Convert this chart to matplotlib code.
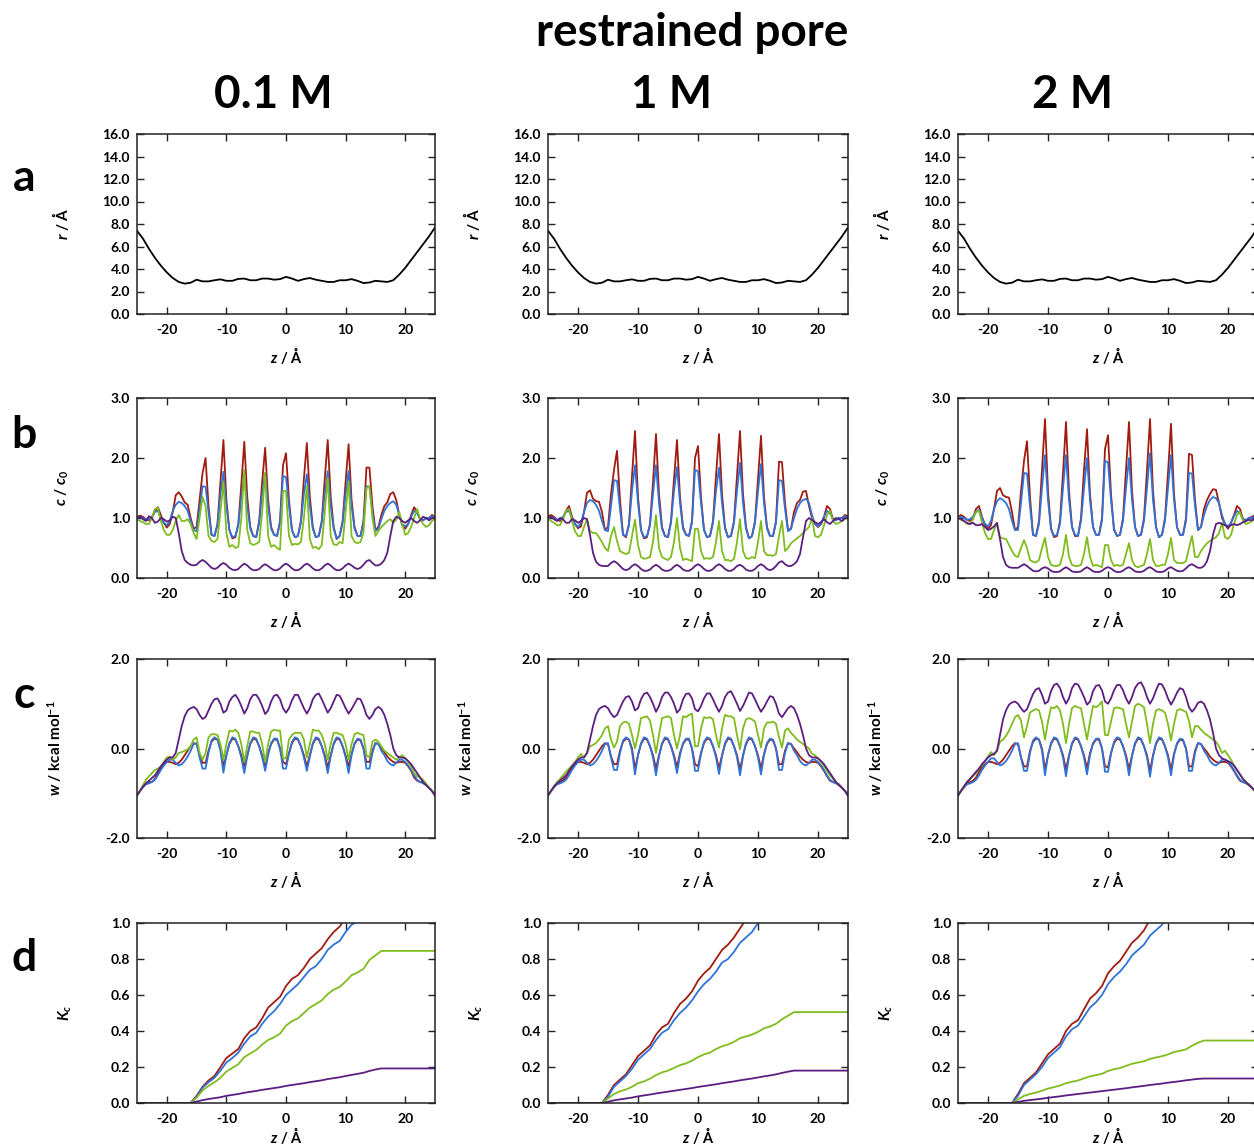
import numpy as np
import matplotlib
matplotlib.use("Agg")
import matplotlib.pyplot as plt
from matplotlib.ticker import FormatStrFormatter, FixedLocator

plt.rcParams['font.family'] = ['Lato', 'DejaVu Sans']
plt.rcParams['axes.unicode_minus'] = False
plt.rcParams['mathtext.fontset'] = 'custom'
plt.rcParams['mathtext.rm'] = 'Lato:bold'
plt.rcParams['mathtext.it'] = 'Lato:italic:bold'
plt.rcParams['mathtext.bf'] = 'Lato:bold'

# ---------------- data ----------------
concentrations = ['0.1 M', '1 M', '2 M']
row_letters = ['a', 'b', 'c', 'd']
series_colors = {'red': '#A01C10', 'blue': '#2F72D8', 'green': '#80BC1E', 'purple': '#5B1E80'}

# pore radius profile (same in all columns)
z_r = [-25, -24, -23, -22, -21, -20, -19, -18, -17, -16, -15, -14, -13, -12, -11, -10, -9, -8, -7, -6, -5,
       -4, -3, -2, -1, 0, 1, 2, 3, 4, 5, 6, 7, 8, 9, 10, 11, 12, 13, 14, 15, 16, 17, 18, 19, 20, 21, 22, 23, 24, 25]
r_profile = [7.4, 6.7, 5.8, 5.0, 4.3, 3.7, 3.2, 2.85, 2.7, 2.78, 3.05, 2.9, 2.9, 3.0, 3.08, 2.95, 2.95, 3.12, 3.15, 3.0, 3.0,
             3.15, 3.15, 3.05, 3.1, 3.3, 3.15, 2.95, 3.1, 3.2, 3.05, 2.95, 2.85, 2.85, 3.0, 3.0, 3.1, 2.95, 2.75, 2.8, 2.95,
             2.9, 2.85, 3.0, 3.5, 4.1, 4.8, 5.5, 6.2, 6.9, 7.7]

# z grid (0.5 A) for concentration and PMF profiles
z_c = [-25.0, -24.5, -24.0, -23.5, -23.0, -22.5, -22.0, -21.5, -21.0, -20.5,
       -20.0, -19.5, -19.0, -18.5, -18.0, -17.5, -17.0, -16.5, -16.0, -15.5,
       -15.0, -14.5, -14.0, -13.5, -13.0, -12.5, -12.0, -11.5, -11.0, -10.5,
       -10.0, -9.5, -9.0, -8.5, -8.0, -7.5, -7.0, -6.5, -6.0, -5.5,
       -5.0, -4.5, -4.0, -3.5, -3.0, -2.5, -2.0, -1.5, -1.0, -0.5,
       0.0, 0.5, 1.0, 1.5, 2.0, 2.5, 3.0, 3.5, 4.0, 4.5,
       5.0, 5.5, 6.0, 6.5, 7.0, 7.5, 8.0, 8.5, 9.0, 9.5,
       10.0, 10.5, 11.0, 11.5, 12.0, 12.5, 13.0, 13.5, 14.0, 14.5,
       15.0, 15.5, 16.0, 16.5, 17.0, 17.5, 18.0, 18.5, 19.0, 19.5,
       20.0, 20.5, 21.0, 21.5, 22.0, 22.5, 23.0, 23.5, 24.0, 24.5,
       25.0]

# ---- c/c0, 0.1 M ----
c01_red = [1.02, 1.04, 1.02, 0.98, 0.96, 1.0, 1.12, 1.18, 1.05, 0.92,
           0.84, 0.9, 1.1, 1.38, 1.43, 1.36, 1.26, 1.22, 1.0, 0.82,
           0.85, 1.3, 1.75, 2.0, 1.2, 0.72, 0.7, 0.9, 1.6, 2.3,
           1.3, 0.8, 0.66, 0.68, 0.9, 1.55, 2.27, 1.35, 0.85, 0.7,
           0.68, 0.95, 1.6, 2.17, 1.3, 0.85, 0.72, 0.7, 0.95, 1.88,
           2.08, 1.3, 0.8, 0.68, 0.7, 0.95, 1.65, 2.25, 1.35, 0.85,
           0.68, 0.7, 0.95, 1.65, 2.3, 1.35, 0.85, 0.65, 0.7, 0.95,
           1.6, 2.23, 1.3, 0.85, 0.7, 0.7, 0.95, 1.84, 1.84, 1.2,
           0.8, 0.85, 1.05, 1.2, 1.26, 1.4, 1.43, 1.3, 1.05, 0.88,
           0.82, 0.9, 1.05, 1.18, 1.1, 0.98, 0.96, 1.0, 1.0, 1.05,
           1.02]
c01_blue = [1.0, 1.02, 1.0, 0.97, 0.98, 1.02, 1.1, 1.12, 1.0, 0.92,
            0.88, 0.95, 1.12, 1.22, 1.27, 1.25, 1.2, 1.12, 0.95, 0.8,
            0.78, 1.15, 1.53, 1.52, 1.1, 0.72, 0.7, 0.88, 1.4, 1.77,
            1.2, 0.8, 0.68, 0.7, 0.88, 1.35, 1.72, 1.2, 0.82, 0.7,
            0.68, 0.92, 1.4, 1.75, 1.2, 0.82, 0.72, 0.7, 0.92, 1.7,
            1.68, 1.2, 0.8, 0.68, 0.7, 0.92, 1.4, 1.73, 1.2, 0.82,
            0.68, 0.7, 0.92, 1.4, 1.78, 1.2, 0.82, 0.66, 0.7, 0.92,
            1.4, 1.78, 1.2, 0.82, 0.7, 0.7, 0.92, 1.53, 1.52, 1.1,
            0.78, 0.82, 0.98, 1.12, 1.2, 1.25, 1.28, 1.22, 1.05, 0.9,
            0.86, 0.9, 1.02, 1.12, 1.08, 0.98, 0.96, 1.0, 1.0, 1.03,
            1.0]
c01_green = [0.98, 0.95, 0.93, 0.9, 0.9, 1.0, 1.15, 1.17, 0.95, 0.8,
             0.72, 0.72, 0.8, 0.95, 1.05, 0.95, 0.95, 0.98, 0.9, 0.75,
             0.65, 1.0, 1.35, 1.2, 0.7, 0.62, 0.6, 0.65, 1.1, 1.6,
             0.75, 0.52, 0.55, 0.5, 0.52, 1.0, 1.8, 0.8, 0.58, 0.55,
             0.57, 0.6, 1.1, 1.75, 0.7, 0.52, 0.55, 0.5, 0.47, 1.45,
             1.45, 0.7, 0.55, 0.57, 0.56, 0.6, 1.0, 1.53, 0.65, 0.5,
             0.52, 0.48, 0.55, 1.1, 1.67, 0.7, 0.56, 0.55, 0.6, 0.58,
             1.1, 1.61, 0.7, 0.6, 0.58, 0.6, 0.75, 1.5, 1.53, 1.0,
             0.7, 0.78, 0.85, 0.9, 0.95, 0.98, 0.92, 0.97, 1.1, 0.9,
             0.72, 0.75, 0.85, 1.0, 1.15, 0.98, 0.9, 0.85, 0.88, 0.95,
             1.0]
c01_purple = [1.0, 1.02, 0.98, 0.95, 1.03, 1.0, 0.92, 0.94, 1.0, 0.98,
              0.94, 0.96, 1.02, 1.0, 0.75, 0.45, 0.3, 0.25, 0.22, 0.21,
              0.22, 0.27, 0.3, 0.27, 0.22, 0.17, 0.15, 0.17, 0.22, 0.25,
              0.22, 0.17, 0.14, 0.13, 0.15, 0.2, 0.24, 0.21, 0.16, 0.13,
              0.13, 0.15, 0.2, 0.23, 0.2, 0.16, 0.13, 0.13, 0.16, 0.21,
              0.24, 0.21, 0.16, 0.13, 0.13, 0.16, 0.21, 0.24, 0.21, 0.16,
              0.13, 0.13, 0.16, 0.21, 0.24, 0.21, 0.16, 0.13, 0.13, 0.16,
              0.21, 0.24, 0.21, 0.17, 0.15, 0.17, 0.22, 0.28, 0.3, 0.25,
              0.21, 0.21, 0.24, 0.3, 0.42, 0.7, 0.95, 1.02, 1.0, 0.95,
              0.92, 0.96, 1.0, 0.95, 0.92, 0.96, 1.02, 1.0, 0.96, 1.0,
              1.0]

# ---- c/c0, 1 M ----
c1_red = [1.03, 1.05, 1.02, 0.97, 0.95, 1.0, 1.12, 1.2, 1.02, 0.9,
          0.83, 0.86, 1.1, 1.42, 1.46, 1.32, 1.28, 1.27, 1.1, 0.8,
          0.85, 1.4, 1.8, 2.12, 1.3, 0.72, 0.68, 0.9, 1.7, 2.45,
          1.35, 0.8, 0.66, 0.68, 0.9, 1.6, 2.4, 1.4, 0.85, 0.7,
          0.68, 0.95, 1.65, 2.3, 1.35, 0.85, 0.72, 0.7, 0.95, 2.0,
          2.2, 1.35, 0.8, 0.68, 0.7, 0.95, 1.7, 2.4, 1.4, 0.85,
          0.68, 0.7, 0.95, 1.7, 2.45, 1.4, 0.85, 0.66, 0.7, 0.95,
          1.65, 2.37, 1.35, 0.85, 0.7, 0.7, 0.95, 1.94, 1.93, 1.25,
          0.8, 0.82, 1.1, 1.25, 1.3, 1.44, 1.45, 1.2, 1.0, 0.9,
          0.85, 0.9, 1.02, 1.2, 1.15, 0.98, 0.97, 1.0, 1.0, 1.05,
          1.03]
c1_blue = [1.0, 1.02, 1.0, 0.97, 0.98, 1.02, 1.1, 1.12, 1.0, 0.9,
           0.85, 0.92, 1.1, 1.25, 1.3, 1.28, 1.22, 1.12, 0.95, 0.8,
           0.78, 1.2, 1.63, 1.62, 1.15, 0.72, 0.7, 0.88, 1.45, 1.88,
           1.25, 0.8, 0.68, 0.7, 0.88, 1.4, 1.88, 1.25, 0.82, 0.7,
           0.68, 0.92, 1.45, 1.85, 1.25, 0.82, 0.72, 0.7, 0.92, 1.8,
           1.78, 1.25, 0.8, 0.68, 0.7, 0.92, 1.45, 1.84, 1.25, 0.82,
           0.68, 0.7, 0.92, 1.45, 1.92, 1.25, 0.82, 0.66, 0.7, 0.92,
           1.45, 1.9, 1.25, 0.82, 0.7, 0.7, 0.92, 1.63, 1.62, 1.15,
           0.78, 0.82, 1.0, 1.15, 1.25, 1.3, 1.32, 1.25, 1.05, 0.9,
           0.86, 0.9, 1.02, 1.12, 1.08, 0.98, 0.96, 1.0, 1.0, 1.03,
           1.0]
c1_green = [1.0, 0.95, 0.92, 0.88, 0.88, 0.98, 1.12, 1.15, 0.95, 0.78,
            0.7, 0.7, 0.85, 0.98, 0.78, 0.75, 0.75, 0.68, 0.6, 0.5,
            0.45, 0.7, 0.85, 0.62, 0.45, 0.42, 0.4, 0.42, 0.7, 0.97,
            0.55, 0.35, 0.32, 0.33, 0.35, 0.6, 1.05, 0.5, 0.35, 0.32,
            0.3, 0.35, 0.6, 1.0, 0.5, 0.3, 0.32, 0.3, 0.28, 0.82,
            0.82, 0.45, 0.32, 0.33, 0.32, 0.35, 0.6, 0.95, 0.45, 0.3,
            0.3, 0.28, 0.32, 0.6, 0.98, 0.45, 0.33, 0.32, 0.35, 0.33,
            0.6, 0.95, 0.45, 0.38, 0.38, 0.37, 0.4, 0.7, 0.95, 0.45,
            0.5, 0.58, 0.62, 0.66, 0.7, 0.75, 0.8, 0.85, 1.0, 0.7,
            0.68, 0.72, 0.88, 1.05, 1.12, 0.95, 0.9, 0.92, 0.95, 0.98,
            1.0]
c1_purple = [1.0, 1.02, 0.98, 0.95, 1.0, 0.98, 0.92, 0.92, 0.98, 0.96,
             0.92, 0.95, 1.0, 0.98, 0.72, 0.42, 0.27, 0.22, 0.2, 0.2,
             0.2, 0.25, 0.28, 0.25, 0.2, 0.15, 0.13, 0.15, 0.2, 0.23,
             0.2, 0.15, 0.12, 0.12, 0.14, 0.19, 0.22, 0.19, 0.14, 0.12,
             0.12, 0.14, 0.19, 0.22, 0.19, 0.14, 0.12, 0.12, 0.15, 0.2,
             0.23, 0.2, 0.15, 0.12, 0.12, 0.15, 0.2, 0.23, 0.2, 0.15,
             0.12, 0.12, 0.15, 0.2, 0.22, 0.19, 0.14, 0.12, 0.12, 0.15,
             0.2, 0.23, 0.2, 0.15, 0.13, 0.15, 0.2, 0.26, 0.28, 0.23,
             0.2, 0.2, 0.23, 0.28, 0.4, 0.68, 0.95, 1.0, 0.97, 0.93,
             0.9, 0.93, 0.98, 0.93, 0.9, 0.95, 1.0, 0.98, 0.95, 1.0,
             1.0]

# ---- c/c0, 2 M ----
c2_red = [1.02, 1.05, 1.02, 0.97, 0.95, 1.0, 1.15, 1.2, 1.02, 0.88,
          0.82, 0.88, 1.15, 1.45, 1.5, 1.38, 1.35, 1.34, 1.1, 0.8,
          0.85, 1.45, 1.95, 2.28, 1.35, 0.72, 0.7, 0.95, 1.8, 2.65,
          1.45, 0.82, 0.68, 0.7, 0.95, 1.75, 2.6, 1.45, 0.85, 0.7,
          0.7, 1.0, 1.8, 2.48, 1.4, 0.85, 0.72, 0.72, 1.0, 2.15,
          2.38, 1.4, 0.8, 0.7, 0.72, 1.0, 1.8, 2.6, 1.45, 0.85,
          0.7, 0.72, 1.0, 1.8, 2.65, 1.45, 0.85, 0.68, 0.72, 1.0,
          1.75, 2.57, 1.4, 0.85, 0.72, 0.72, 1.0, 2.07, 2.05, 1.3,
          0.8, 0.85, 1.15, 1.3, 1.4, 1.48, 1.47, 1.25, 1.0, 0.9,
          0.82, 0.92, 1.05, 1.2, 1.15, 0.98, 0.97, 1.0, 1.02, 1.05,
          1.03]
c2_blue = [1.0, 1.02, 1.0, 0.97, 0.98, 1.02, 1.1, 1.14, 1.0, 0.9,
           0.86, 0.95, 1.15, 1.28, 1.33, 1.3, 1.25, 1.15, 0.95, 0.8,
           0.8, 1.25, 1.75, 1.74, 1.2, 0.72, 0.7, 0.9, 1.5, 2.05,
           1.3, 0.82, 0.7, 0.72, 0.9, 1.5, 2.05, 1.3, 0.85, 0.72,
           0.7, 0.95, 1.5, 2.0, 1.3, 0.85, 0.72, 0.72, 0.95, 1.95,
           1.93, 1.3, 0.82, 0.7, 0.72, 0.95, 1.5, 2.0, 1.3, 0.85,
           0.7, 0.72, 0.95, 1.5, 2.08, 1.3, 0.85, 0.68, 0.72, 0.95,
           1.5, 2.05, 1.3, 0.85, 0.72, 0.72, 0.95, 1.75, 1.74, 1.2,
           0.8, 0.85, 1.05, 1.2, 1.3, 1.35, 1.33, 1.25, 1.05, 0.9,
           0.86, 0.92, 1.03, 1.12, 1.08, 0.98, 0.96, 1.0, 1.0, 1.03,
           1.0]
c2_green = [1.0, 0.97, 0.95, 0.9, 0.9, 0.98, 1.1, 1.12, 0.92, 0.75,
            0.65, 0.65, 0.8, 0.9, 0.68, 0.66, 0.65, 0.55, 0.45, 0.37,
            0.35, 0.5, 0.63, 0.5, 0.3, 0.27, 0.26, 0.3, 0.5, 0.67,
            0.35, 0.22, 0.2, 0.2, 0.22, 0.4, 0.72, 0.35, 0.22, 0.2,
            0.2, 0.22, 0.4, 0.68, 0.35, 0.2, 0.22, 0.2, 0.18, 0.55,
            0.55, 0.3, 0.2, 0.22, 0.2, 0.22, 0.4, 0.58, 0.3, 0.2,
            0.18, 0.2, 0.22, 0.4, 0.65, 0.3, 0.2, 0.2, 0.22, 0.22,
            0.4, 0.67, 0.3, 0.25, 0.25, 0.25, 0.28, 0.5, 0.7, 0.35,
            0.35, 0.45, 0.52, 0.58, 0.62, 0.65, 0.68, 0.75, 0.92, 0.68,
            0.65, 0.72, 0.9, 1.05, 1.1, 0.95, 0.9, 0.92, 0.95, 0.98,
            1.0]
c2_purple = [1.0, 0.98, 0.95, 0.92, 0.9, 0.92, 0.88, 0.88, 0.9, 0.85,
             0.8, 0.82, 0.86, 0.92, 0.65, 0.35, 0.22, 0.18, 0.17, 0.17,
             0.17, 0.2, 0.23, 0.2, 0.16, 0.12, 0.11, 0.12, 0.16, 0.18,
             0.16, 0.12, 0.1, 0.1, 0.11, 0.15, 0.18, 0.15, 0.11, 0.1,
             0.1, 0.11, 0.15, 0.18, 0.15, 0.11, 0.1, 0.1, 0.12, 0.16,
             0.18, 0.16, 0.12, 0.1, 0.1, 0.12, 0.16, 0.18, 0.15, 0.11,
             0.1, 0.1, 0.12, 0.16, 0.18, 0.15, 0.11, 0.1, 0.1, 0.12,
             0.16, 0.18, 0.15, 0.12, 0.11, 0.12, 0.16, 0.21, 0.23, 0.2,
             0.17, 0.17, 0.2, 0.28, 0.45, 0.72, 0.9, 0.92, 0.9, 0.88,
             0.85, 0.88, 0.9, 0.88, 0.9, 0.93, 0.95, 0.97, 0.96, 1.0,
             1.0]

# ---- w (kcal/mol), 0.1 M ----
w01_red = [-1.05, -0.95, -0.85, -0.78, -0.75, -0.75, -0.68, -0.55, -0.45, -0.35,
           -0.3, -0.3, -0.32, -0.35, -0.32, -0.25, -0.15, -0.05, 0.05, 0.12,
           0.1, -0.15, -0.32, -0.32, -0.05, 0.15, 0.22, 0.2, 0.0, -0.4,
           -0.15, 0.1, 0.22, 0.2, 0.05, -0.15, -0.4, -0.15, 0.1, 0.22,
           0.2, 0.05, -0.15, -0.38, -0.1, 0.1, 0.2, 0.2, 0.0, -0.3,
           -0.35, -0.1, 0.12, 0.22, 0.2, 0.05, -0.15, -0.4, -0.15, 0.1,
           0.22, 0.2, 0.05, -0.15, -0.42, -0.15, 0.1, 0.22, 0.2, 0.05,
           -0.15, -0.4, -0.12, 0.1, 0.2, 0.18, 0.0, -0.3, -0.3, -0.05,
           0.12, 0.1, 0.0, -0.08, -0.18, -0.25, -0.3, -0.32, -0.3, -0.3,
           -0.32, -0.4, -0.5, -0.65, -0.72, -0.75, -0.75, -0.8, -0.88, -0.95,
           -1.05]
w01_blue = [-1.05, -0.95, -0.87, -0.8, -0.78, -0.75, -0.7, -0.6, -0.48, -0.38,
            -0.3, -0.25, -0.25, -0.32, -0.38, -0.35, -0.28, -0.18, -0.05, 0.1,
            0.12, -0.2, -0.45, -0.45, -0.1, 0.18, 0.25, 0.2, -0.05, -0.54,
            -0.15, 0.12, 0.25, 0.22, 0.05, -0.2, -0.55, -0.18, 0.12, 0.25,
            0.22, 0.05, -0.2, -0.5, -0.15, 0.12, 0.22, 0.22, 0.0, -0.45,
            -0.45, -0.12, 0.15, 0.25, 0.22, 0.05, -0.2, -0.5, -0.18, 0.12,
            0.25, 0.22, 0.05, -0.2, -0.55, -0.18, 0.12, 0.25, 0.22, 0.05,
            -0.2, -0.55, -0.15, 0.12, 0.22, 0.2, 0.0, -0.45, -0.45, -0.1,
            0.12, 0.1, -0.05, -0.15, -0.28, -0.35, -0.38, -0.32, -0.25, -0.25,
            -0.3, -0.38, -0.48, -0.6, -0.7, -0.75, -0.78, -0.82, -0.88, -0.95,
            -1.05]
w01_green = [-1.05, -0.95, -0.82, -0.7, -0.62, -0.55, -0.48, -0.45, -0.4, -0.3,
             -0.2, -0.18, -0.25, -0.2, -0.1, -0.08, -0.05, -0.02, 0.05, 0.2,
             0.25, -0.1, -0.25, -0.1, 0.25, 0.32, 0.32, 0.3, 0.1, -0.25,
             0.1, 0.4, 0.38, 0.42, 0.35, 0.1, -0.3, 0.05, 0.38, 0.38,
             0.35, 0.35, 0.1, -0.3, 0.1, 0.38, 0.42, 0.4, 0.4, -0.22,
             -0.22, 0.2, 0.3, 0.35, 0.35, 0.35, 0.2, -0.2, 0.1, 0.42,
             0.4, 0.4, 0.3, 0.1, -0.25, 0.1, 0.35, 0.35, 0.32, 0.3,
             0.1, -0.25, 0.1, 0.32, 0.35, 0.32, 0.3, -0.15, -0.2, 0.15,
             0.2, 0.15, 0.05, -0.05, -0.1, -0.15, -0.2, -0.25, -0.2, -0.15,
             -0.22, -0.3, -0.4, -0.55, -0.62, -0.65, -0.7, -0.78, -0.88, -0.95,
             -1.05]
w01_purple = [-1.05, -0.95, -0.85, -0.78, -0.72, -0.66, -0.6, -0.5, -0.4, -0.32,
              -0.25, -0.2, -0.2, -0.1, 0.2, 0.5, 0.72, 0.85, 0.9, 0.93,
              0.88, 0.75, 0.66, 0.7, 0.85, 1.0, 1.1, 1.12, 1.0, 0.8,
              0.85, 1.05, 1.15, 1.2, 1.1, 0.95, 0.78, 0.9, 1.1, 1.2,
              1.2, 1.1, 0.95, 0.77, 0.85, 1.05, 1.18, 1.2, 1.1, 0.9,
              0.8, 0.9, 1.08, 1.2, 1.2, 1.05, 0.9, 0.78, 0.9, 1.1,
              1.2, 1.23, 1.1, 0.95, 0.8, 0.9, 1.05, 1.2, 1.18, 1.05,
              0.9, 0.78, 0.88, 1.0, 1.12, 1.1, 0.95, 0.75, 0.66, 0.75,
              0.88, 0.93, 0.88, 0.75, 0.55, 0.3, 0.0, -0.15, -0.2, -0.2,
              -0.22, -0.28, -0.35, -0.45, -0.55, -0.65, -0.75, -0.82, -0.88, -0.95,
              -1.05]

# ---- w, 1 M ----
w1_red = [-1.05, -0.95, -0.85, -0.78, -0.75, -0.72, -0.65, -0.52, -0.42, -0.35,
          -0.3, -0.3, -0.32, -0.35, -0.32, -0.25, -0.15, -0.05, 0.05, 0.12,
          0.1, -0.18, -0.35, -0.35, -0.05, 0.15, 0.22, 0.2, 0.0, -0.45,
          -0.15, 0.1, 0.22, 0.2, 0.05, -0.15, -0.45, -0.15, 0.1, 0.22,
          0.2, 0.05, -0.15, -0.42, -0.1, 0.1, 0.2, 0.2, 0.0, -0.35,
          -0.4, -0.1, 0.12, 0.22, 0.2, 0.05, -0.15, -0.45, -0.15, 0.1,
          0.22, 0.2, 0.05, -0.15, -0.47, -0.15, 0.1, 0.22, 0.2, 0.05,
          -0.15, -0.45, -0.12, 0.1, 0.2, 0.18, 0.0, -0.35, -0.35, -0.05,
          0.12, 0.1, 0.0, -0.08, -0.18, -0.25, -0.3, -0.32, -0.3, -0.3,
          -0.32, -0.4, -0.5, -0.62, -0.72, -0.75, -0.77, -0.8, -0.88, -0.95,
          -1.05]
w1_blue = [-1.05, -0.95, -0.87, -0.8, -0.78, -0.75, -0.7, -0.6, -0.48, -0.38,
           -0.3, -0.25, -0.25, -0.32, -0.38, -0.35, -0.28, -0.18, -0.05, 0.1,
           0.12, -0.2, -0.48, -0.48, -0.1, 0.18, 0.25, 0.2, -0.05, -0.58,
           -0.15, 0.12, 0.25, 0.22, 0.05, -0.2, -0.6, -0.18, 0.12, 0.25,
           0.22, 0.05, -0.2, -0.55, -0.15, 0.12, 0.22, 0.22, 0.0, -0.5,
           -0.5, -0.12, 0.15, 0.25, 0.22, 0.05, -0.2, -0.57, -0.18, 0.12,
           0.25, 0.22, 0.05, -0.2, -0.6, -0.18, 0.12, 0.25, 0.22, 0.05,
           -0.2, -0.58, -0.15, 0.12, 0.22, 0.2, 0.0, -0.48, -0.48, -0.1,
           0.12, 0.1, -0.05, -0.15, -0.28, -0.35, -0.38, -0.32, -0.25, -0.25,
           -0.3, -0.38, -0.48, -0.6, -0.7, -0.75, -0.78, -0.82, -0.88, -0.95,
           -1.05]
w1_green = [-1.05, -0.95, -0.85, -0.75, -0.68, -0.6, -0.52, -0.45, -0.38, -0.3,
            -0.2, -0.12, -0.2, -0.1, 0.05, 0.08, 0.12, 0.2, 0.3, 0.45,
            0.5, 0.2, 0.02, 0.15, 0.5, 0.58, 0.6, 0.55, 0.3, 0.0,
            0.3, 0.68, 0.7, 0.72, 0.62, 0.3, -0.1, 0.3, 0.68, 0.7,
            0.72, 0.68, 0.3, 0.0, 0.3, 0.72, 0.7, 0.75, 0.78, 0.05,
            0.05, 0.45, 0.7, 0.68, 0.7, 0.65, 0.3, 0.02, 0.45, 0.75,
            0.72, 0.72, 0.68, 0.3, -0.02, 0.45, 0.65, 0.68, 0.65, 0.6,
            0.3, 0.02, 0.45, 0.58, 0.58, 0.6, 0.55, 0.25, 0.02, 0.4,
            0.45, 0.35, 0.28, 0.2, 0.15, 0.1, 0.05, 0.0, -0.12, -0.15,
            -0.22, -0.3, -0.4, -0.5, -0.6, -0.68, -0.75, -0.82, -0.88, -0.95,
            -1.05]
w1_purple = [-1.05, -0.95, -0.85, -0.78, -0.72, -0.66, -0.6, -0.5, -0.4, -0.32,
             -0.25, -0.2, -0.2, -0.1, 0.2, 0.5, 0.75, 0.88, 0.93, 0.95,
             0.9, 0.78, 0.7, 0.75, 0.9, 1.05, 1.15, 1.17, 1.05, 0.85,
             0.9, 1.1, 1.22, 1.25, 1.15, 1.0, 0.82, 0.95, 1.15, 1.25,
             1.25, 1.15, 1.0, 0.8, 0.88, 1.1, 1.22, 1.23, 1.12, 0.88,
             0.83, 0.95, 1.12, 1.23, 1.23, 1.1, 0.95, 0.82, 0.95, 1.15,
             1.25, 1.28, 1.15, 1.0, 0.84, 0.95, 1.1, 1.25, 1.23, 1.1,
             0.95, 0.82, 0.92, 1.05, 1.17, 1.15, 1.0, 0.78, 0.7, 0.8,
             0.9, 0.95, 0.9, 0.75, 0.55, 0.3, 0.0, -0.15, -0.2, -0.2,
             -0.22, -0.28, -0.35, -0.45, -0.55, -0.65, -0.75, -0.82, -0.88, -0.95,
             -1.05]

# ---- w, 2 M ----
w2_red = [-1.05, -0.95, -0.85, -0.78, -0.75, -0.72, -0.65, -0.52, -0.42, -0.35,
          -0.3, -0.3, -0.32, -0.35, -0.32, -0.25, -0.15, -0.05, 0.05, 0.12,
          0.1, -0.2, -0.4, -0.4, -0.05, 0.15, 0.22, 0.2, 0.0, -0.47,
          -0.15, 0.1, 0.22, 0.2, 0.05, -0.15, -0.47, -0.15, 0.1, 0.22,
          0.2, 0.05, -0.15, -0.45, -0.1, 0.1, 0.2, 0.2, 0.0, -0.4,
          -0.42, -0.1, 0.12, 0.22, 0.2, 0.05, -0.15, -0.47, -0.15, 0.1,
          0.22, 0.2, 0.05, -0.15, -0.5, -0.15, 0.1, 0.22, 0.2, 0.05,
          -0.15, -0.48, -0.12, 0.1, 0.2, 0.18, 0.0, -0.4, -0.4, -0.05,
          0.12, 0.1, 0.0, -0.08, -0.18, -0.25, -0.3, -0.32, -0.3, -0.3,
          -0.32, -0.4, -0.5, -0.62, -0.72, -0.75, -0.77, -0.8, -0.88, -0.95,
          -1.05]
w2_blue = [-1.05, -0.95, -0.87, -0.8, -0.78, -0.75, -0.7, -0.6, -0.48, -0.38,
           -0.3, -0.22, -0.22, -0.3, -0.38, -0.35, -0.28, -0.18, -0.05, 0.1,
           0.12, -0.2, -0.5, -0.5, -0.1, 0.18, 0.25, 0.2, -0.05, -0.6,
           -0.15, 0.12, 0.25, 0.22, 0.05, -0.2, -0.62, -0.18, 0.12, 0.25,
           0.22, 0.05, -0.2, -0.58, -0.15, 0.12, 0.22, 0.22, 0.0, -0.52,
           -0.52, -0.12, 0.15, 0.25, 0.22, 0.05, -0.2, -0.6, -0.18, 0.12,
           0.25, 0.22, 0.05, -0.2, -0.63, -0.18, 0.12, 0.25, 0.22, 0.05,
           -0.2, -0.6, -0.15, 0.12, 0.22, 0.2, 0.0, -0.5, -0.5, -0.1,
           0.12, 0.1, -0.05, -0.15, -0.28, -0.35, -0.38, -0.32, -0.25, -0.25,
           -0.3, -0.38, -0.48, -0.6, -0.7, -0.75, -0.78, -0.82, -0.88, -0.95,
           -1.05]
w2_green = [-1.05, -0.95, -0.85, -0.75, -0.68, -0.62, -0.55, -0.45, -0.38, -0.28,
            -0.18, -0.08, -0.15, -0.05, 0.15, 0.2, 0.28, 0.4, 0.55, 0.7,
            0.75, 0.62, 0.25, 0.5, 0.8, 0.85, 0.88, 0.85, 0.6, 0.2,
            0.6, 0.92, 0.9, 0.95, 0.85, 0.55, 0.12, 0.55, 0.9, 0.95,
            0.92, 0.9, 0.55, 0.2, 0.6, 0.95, 0.92, 0.97, 1.05, 0.3,
            0.3, 0.6, 0.9, 0.92, 0.9, 0.88, 0.55, 0.25, 0.6, 0.95,
            1.0, 0.97, 0.92, 0.55, 0.12, 0.55, 0.85, 0.88, 0.85, 0.8,
            0.55, 0.18, 0.55, 0.85, 0.88, 0.85, 0.82, 0.62, 0.25, 0.5,
            0.5, 0.42, 0.35, 0.3, 0.25, 0.2, 0.15, 0.05, -0.1, -0.05,
            -0.15, -0.25, -0.38, -0.48, -0.58, -0.68, -0.75, -0.82, -0.88, -0.95,
            -1.05]
w2_purple = [-1.05, -0.95, -0.85, -0.75, -0.68, -0.6, -0.52, -0.45, -0.35, -0.28,
             -0.2, -0.15, -0.12, -0.05, 0.3, 0.65, 0.85, 0.98, 1.03, 1.05,
             1.0, 0.9, 0.82, 0.88, 1.05, 1.22, 1.32, 1.35, 1.2, 1.0,
             1.05, 1.28, 1.42, 1.45, 1.35, 1.15, 1.0, 1.12, 1.35, 1.45,
             1.43, 1.3, 1.15, 0.98, 1.05, 1.28, 1.4, 1.42, 1.3, 1.05,
             1.0, 1.12, 1.3, 1.42, 1.42, 1.3, 1.12, 1.0, 1.15, 1.35,
             1.45, 1.48, 1.35, 1.15, 1.0, 1.12, 1.3, 1.45, 1.43, 1.3,
             1.12, 0.98, 1.1, 1.25, 1.35, 1.32, 1.15, 0.92, 0.82, 0.9,
             1.02, 1.05, 1.0, 0.85, 0.65, 0.35, 0.0, -0.15, -0.22, -0.25,
             -0.28, -0.32, -0.38, -0.48, -0.58, -0.68, -0.75, -0.82, -0.88, -0.95,
             -1.05]

# ---- cumulative K_c ----
z_k = [-25, -16, -15, -14, -13, -12, -11, -10, -9, -8, -7, -6, -5, -4, -3, -2, -1,
       0, 1, 2, 3, 4, 5, 6, 7, 8, 9, 10, 11, 12, 13, 14, 15, 16, 25]
k01_red = [0, 0, 0.04, 0.09, 0.125, 0.15, 0.2, 0.25, 0.275, 0.3, 0.36, 0.4, 0.42, 0.47, 0.53, 0.56, 0.59,
           0.65, 0.69, 0.71, 0.75, 0.8, 0.83, 0.86, 0.91, 0.95, 0.98, 1.03, 1.08, 1.1, 1.14, 1.2, 1.22, 1.25, 1.25]
k01_blue = [0, 0, 0.035, 0.085, 0.115, 0.14, 0.18, 0.225, 0.25, 0.28, 0.33, 0.37, 0.39, 0.44, 0.48, 0.51, 0.55,
            0.6, 0.63, 0.66, 0.7, 0.74, 0.76, 0.8, 0.85, 0.88, 0.9, 0.95, 0.99, 1.01, 1.05, 1.1, 1.12, 1.14, 1.14]
k01_green = [0, 0, 0.03, 0.07, 0.095, 0.115, 0.14, 0.175, 0.195, 0.215, 0.255, 0.275, 0.295, 0.325, 0.35, 0.365, 0.385,
             0.43, 0.455, 0.47, 0.5, 0.53, 0.55, 0.57, 0.605, 0.63, 0.645, 0.675, 0.71, 0.725, 0.745, 0.795, 0.82, 0.845, 0.845]
k01_purple = [0, 0, 0.008, 0.016, 0.022, 0.027, 0.032, 0.04, 0.045, 0.05, 0.057, 0.062, 0.067, 0.073, 0.078, 0.083, 0.088,
              0.095, 0.1, 0.105, 0.11, 0.116, 0.121, 0.126, 0.133, 0.138, 0.143, 0.15, 0.156, 0.162, 0.168, 0.178, 0.186, 0.192, 0.192]

k1_red = [0, 0, 0.045, 0.1, 0.13, 0.16, 0.21, 0.26, 0.29, 0.32, 0.38, 0.42, 0.44, 0.5, 0.55, 0.58, 0.62,
          0.68, 0.72, 0.75, 0.8, 0.85, 0.88, 0.92, 0.97, 1.02, 1.06, 1.11, 1.16, 1.2, 1.24, 1.3, 1.33, 1.35, 1.35]
k1_blue = [0, 0, 0.035, 0.09, 0.12, 0.15, 0.19, 0.24, 0.27, 0.3, 0.35, 0.39, 0.41, 0.46, 0.5, 0.53, 0.57,
           0.62, 0.66, 0.69, 0.73, 0.78, 0.8, 0.84, 0.89, 0.92, 0.95, 1.0, 1.04, 1.07, 1.11, 1.16, 1.19, 1.21, 1.21]
k1_green = [0, 0, 0.025, 0.05, 0.065, 0.075, 0.09, 0.11, 0.12, 0.135, 0.155, 0.17, 0.18, 0.195, 0.21, 0.22, 0.235,
            0.255, 0.27, 0.28, 0.3, 0.315, 0.325, 0.34, 0.36, 0.37, 0.38, 0.395, 0.415, 0.425, 0.44, 0.465, 0.485, 0.505, 0.505]
k1_purple = [0, 0, 0.007, 0.015, 0.02, 0.025, 0.03, 0.037, 0.042, 0.047, 0.053, 0.058, 0.063, 0.068, 0.073, 0.078, 0.083,
             0.089, 0.094, 0.099, 0.104, 0.11, 0.115, 0.12, 0.126, 0.131, 0.136, 0.142, 0.148, 0.153, 0.159, 0.167, 0.174, 0.18, 0.18]

k2_red = [0, 0, 0.05, 0.11, 0.14, 0.17, 0.22, 0.27, 0.3, 0.33, 0.4, 0.44, 0.46, 0.52, 0.58, 0.61, 0.65,
          0.72, 0.76, 0.79, 0.84, 0.89, 0.92, 0.96, 1.02, 1.06, 1.1, 1.16, 1.21, 1.25, 1.3, 1.36, 1.4, 1.42, 1.42]
k2_blue = [0, 0, 0.04, 0.1, 0.13, 0.16, 0.2, 0.25, 0.28, 0.31, 0.37, 0.41, 0.43, 0.48, 0.53, 0.56, 0.6,
           0.66, 0.7, 0.73, 0.77, 0.82, 0.85, 0.88, 0.93, 0.96, 0.99, 1.04, 1.08, 1.11, 1.15, 1.2, 1.23, 1.25, 1.25]
k2_green = [0, 0, 0.02, 0.04, 0.05, 0.058, 0.068, 0.08, 0.088, 0.097, 0.11, 0.118, 0.125, 0.137, 0.148, 0.155, 0.162,
            0.178, 0.188, 0.194, 0.206, 0.218, 0.225, 0.232, 0.245, 0.253, 0.26, 0.27, 0.283, 0.29, 0.298, 0.318, 0.335, 0.347, 0.347]
k2_purple = [0, 0, 0.006, 0.012, 0.016, 0.02, 0.024, 0.029, 0.033, 0.037, 0.042, 0.046, 0.05, 0.054, 0.058, 0.062, 0.066,
             0.07, 0.074, 0.078, 0.082, 0.087, 0.091, 0.095, 0.1, 0.104, 0.108, 0.113, 0.117, 0.121, 0.126, 0.13, 0.134, 0.136, 0.136]

c_data = [
    {'red': c01_red, 'blue': c01_blue, 'green': c01_green, 'purple': c01_purple},
    {'red': c1_red, 'blue': c1_blue, 'green': c1_green, 'purple': c1_purple},
    {'red': c2_red, 'blue': c2_blue, 'green': c2_green, 'purple': c2_purple},
]
w_data = [
    {'red': w01_red, 'blue': w01_blue, 'green': w01_green, 'purple': w01_purple},
    {'red': w1_red, 'blue': w1_blue, 'green': w1_green, 'purple': w1_purple},
    {'red': w2_red, 'blue': w2_blue, 'green': w2_green, 'purple': w2_purple},
]
k_data = [
    {'red': k01_red, 'blue': k01_blue, 'green': k01_green, 'purple': k01_purple},
    {'red': k1_red, 'blue': k1_blue, 'green': k1_green, 'purple': k1_purple},
    {'red': k2_red, 'blue': k2_blue, 'green': k2_green, 'purple': k2_purple},
]
for group, zz in ((c_data, z_c), (w_data, z_c), (k_data, z_k)):
    for d in group:
        for k, v in d.items():
            assert len(v) == len(zz), (k, len(v), len(zz))

# ---------------- layout ----------------
W, H = 1254, 1148
fig = plt.figure(figsize=(W / 100, H / 100), dpi=100)

col_px = [(137, 298), (548, 300), (958, 300)]
row_px = [(134, 180), (398, 180), (659, 179), (923, 180)]

row_ylim = [(0, 16), (0, 3), (-2, 2), (0, 1)]
row_yticks = [np.arange(0, 16.1, 2), [0, 1, 2, 3], [-2, 0, 2], [0, 0.2, 0.4, 0.6, 0.8, 1.0]]
row_ylabel = [r'$r$ / Å', r'$c$ / $c_0$', r'$w$ / kcal mol$^{-1}$', r'$K_c$']
row_ylab_x = [-66, -66, -73, -63]
row_xlab_y = [-31, -31, -31, -22]

order = ['red', 'blue', 'green', 'purple']
spine_col = '#222222'

for ci in range(3):
    x0, wpx = col_px[ci]
    for ri in range(4):
        y0, hpx = row_px[ri]
        ax = fig.add_axes([x0 / W, 1 - (y0 + hpx) / H, wpx / W, hpx / H])
        if ri == 0:
            ax.plot(z_r, r_profile, color='black', lw=1.3)
        else:
            data, zz = [(c_data, z_c), (w_data, z_c), (k_data, z_k)][ri - 1]
            for s in order:
                ax.plot(zz, data[ci][s], color=series_colors[s], lw=1.3)
        ax.set_xlim(-25, 25)
        ax.set_ylim(*row_ylim[ri])
        ax.xaxis.set_major_locator(FixedLocator([-20, -10, 0, 10, 20]))
        ax.yaxis.set_major_locator(FixedLocator(row_yticks[ri]))
        ax.xaxis.set_major_formatter(FormatStrFormatter('%d'))
        ax.yaxis.set_major_formatter(FormatStrFormatter('%.1f'))
        ax.tick_params(direction='in', top=True, right=True, length=5, width=1.0,
                       labelsize=10, colors=spine_col, labelcolor='black')
        ax.tick_params(axis='x', pad=7)
        ax.tick_params(axis='y', pad=5)
        for lbl in ax.get_xticklabels() + ax.get_yticklabels():
            lbl.set_fontweight('bold')
        for sp in ax.spines.values():
            sp.set_linewidth(1.1)
            sp.set_color(spine_col)
        ax.set_xlabel(r'$z$ / Å', fontsize=10.5, fontweight='bold')
        ax.xaxis.set_label_coords(0.5, row_xlab_y[ri] / hpx)
        ax.set_ylabel(row_ylabel[ri], fontsize=11, fontweight='bold')
        ax.yaxis.set_label_coords(row_ylab_x[ri] / wpx, 0.5)

fig.text(692 / W, 1 - 33 / H, 'restrained pore', ha='center', va='center',
         fontsize=33, fontweight='bold')
for cx, t in zip([273, 672, 1073], concentrations):
    fig.text(cx / W, 1 - 95 / H, t, ha='center', va='center', fontsize=33, fontweight='bold')
for ry, t in zip([178, 435, 695, 958], row_letters):
    fig.text(24 / W, 1 - ry / H, t, ha='center', va='center', fontsize=32, fontweight='bold')

fig.savefig('out.png', dpi=100)
